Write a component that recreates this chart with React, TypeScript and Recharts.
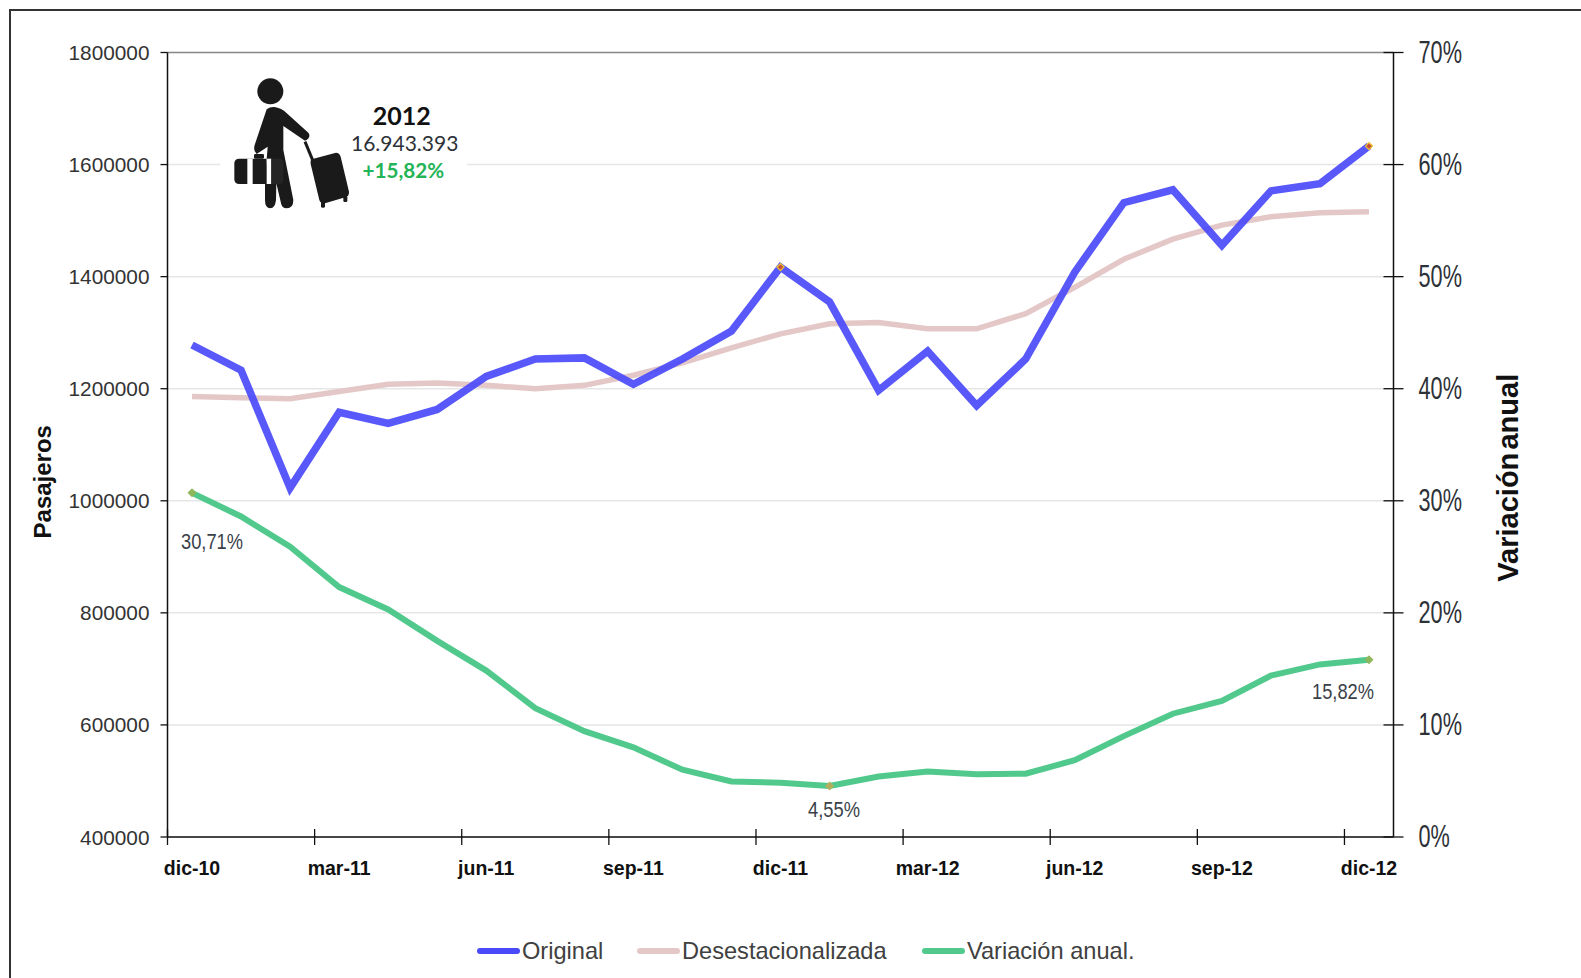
import React from 'react';
import {
  CartesianGrid,
  Label,
  LabelList,
  Legend,
  Line,
  LineChart,
  ReferenceLine,
  XAxis,
  YAxis,
} from 'recharts';

const months = [
  'dic-10', 'ene-11', 'feb-11', 'mar-11', 'abr-11', 'may-11', 'jun-11', 'jul-11', 'ago-11', 'sep-11', 'oct-11', 'nov-11',
  'dic-11', 'ene-12', 'feb-12', 'mar-12', 'abr-12', 'may-12', 'jun-12', 'jul-12', 'ago-12', 'sep-12', 'oct-12', 'nov-12', 'dic-12',
];
const original = [
  1278000, 1233000, 1023000, 1158000, 1138000, 1163000, 1222000, 1253000, 1255000, 1208000, 1253000, 1303000,
  1417000, 1355000, 1197000, 1267000, 1170000, 1253000, 1408000, 1532000, 1555000, 1456000, 1553000, 1566000, 1633000,
];
const desestacionalizada = [
  1186000, 1184000, 1182000, 1195000, 1208000, 1210000, 1206000, 1200000, 1206000, 1224000, 1246000, 1273000,
  1298000, 1316000, 1318000, 1307000, 1307000, 1334000, 1381000, 1431000, 1467000, 1492000, 1507000, 1514000, 1516000,
];
const variacion = [
  30.71, 28.6, 25.9, 22.3, 20.3, 17.5, 14.85, 11.5, 9.45, 8.0, 6.0, 4.95,
  4.85, 4.55, 5.4, 5.85, 5.6, 5.65, 6.85, 9.0, 11.0, 12.15, 14.4, 15.4, 15.82,
];
const pasajerosTicks = [400000, 600000, 800000, 1000000, 1200000, 1400000, 1600000, 1800000];
const variacionTicks = [0, 10, 20, 30, 40, 50, 60, 70];
const legendNames = ['Original', 'Desestacionalizada', 'Variación anual.'];

const data = months.map((month, i) => ({
  month,
  original: original[i],
  desestacionalizada: desestacionalizada[i],
  variacion: variacion[i],
}));

const ARIAL = '"Liberation Sans", Arial, sans-serif';
const BLUE = '#4a4afb';
const PINK = '#e4c8c8';
const GREEN = '#52c98c';
const HALF_STEP = 24.52;

// puntos destacados y donde va su etiqueta respecto al punto
const labelled: Record<number, { dx: number; dy: number; w: number }> = {
  0: { dx: 20, dy: 56, w: 62 },
  13: { dx: 4.5, dy: 31, w: 52 },
  24: { dx: -26, dy: 39, w: 62 },
};

const Diamond = ({ cx, cy, r, fill, stroke }: any) => (
  <path
    d={`M${cx - r},${cy}L${cx},${cy - r}L${cx + r},${cy}L${cx},${cy + r}Z`}
    fill={fill}
    stroke={stroke}
    strokeWidth={stroke ? 1.2 : 0}
  />
);

const blueDot = (props: any) =>
  props.index === 12 || props.index === 24 ? (
    <Diamond key={props.index} cx={props.cx} cy={props.cy} r={3.6} fill="#c9503c" stroke="#ecc832" />
  ) : (
    <g key={props.index} />
  );

const greenDot = (props: any) =>
  labelled[props.index] ? (
    <Diamond key={props.index} cx={props.cx} cy={props.cy} r={4.5} fill={props.index === 13 ? '#b3ae5e' : '#8fb75c'} />
  ) : (
    <g key={props.index} />
  );

const VariacionLabel = ({ x, y, index, value }: any) => {
  const l = labelled[index];
  if (!l) return null;
  return (
    <text
      x={x + l.dx}
      y={y + l.dy}
      textAnchor="middle"
      textLength={l.w}
      lengthAdjust="spacingAndGlyphs"
      fontFamily={ARIAL}
      fontSize={21.5}
      fill="#3a3f48"
    >
      {`${Number(value).toFixed(2).replace('.', ',')}%`}
    </text>
  );
};

const MonthTick = ({ x, y, payload }: any) => (
  <g>
    <line x1={x - HALF_STEP} x2={x - HALF_STEP} y1={y - 8} y2={y + 8} stroke="#111" strokeWidth={1.3} />
    <text x={x} y={y + 37.5} textAnchor="middle" fontFamily={ARIAL} fontWeight="bold" fontSize={19.5} fill="#111">
      {payload.value}
    </text>
  </g>
);

const LeftTick = ({ x, y, payload }: any) => (
  <g>
    <line x1={x - 7} x2={x} y1={y} y2={y} stroke="#111" strokeWidth={1.3} />
    <text x={x - 18} y={y + 7.5} textAnchor="end" fontFamily={ARIAL} fontSize={20.8} fill="#333">
      {payload.value}
    </text>
  </g>
);

const RightTick = ({ x, y, payload }: any) => (
  <g>
    <line x1={x - 10} x2={x + 10} y1={y} y2={y} stroke="#111" strokeWidth={1.3} />
    <text
      transform={`translate(${x + 25},${y + 10}) scale(0.7,1)`}
      fontFamily={ARIAL}
      fontSize={31}
      fill="#2d3138"
    >
      {`${payload.value}%`}
    </text>
  </g>
);

const PasajerosTitle = ({ viewBox }: any) => {
  const cx = 51;
  const cy = viewBox.y + viewBox.height / 2 + 37;
  return (
    <text
      transform={`rotate(-90 ${cx} ${cy})`}
      x={cx}
      y={cy}
      textAnchor="middle"
      fontFamily={ARIAL}
      fontWeight="bold"
      fontSize={24}
      fill="#111"
    >
      Pasajeros
    </text>
  );
};

const VariacionTitle = ({ viewBox }: any) => {
  const cx = 1518;
  const cy = viewBox.y + viewBox.height / 2 + 33;
  return (
    <text
      transform={`rotate(-90 ${cx} ${cy})`}
      x={cx}
      y={cy}
      textAnchor="middle"
      textLength={208}
      lengthAdjust="spacingAndGlyphs"
      wordSpacing={-5}
      fontFamily={ARIAL}
      fontWeight="bold"
      fontSize={29}
      fill="#111"
    >
      Variación anual
    </text>
  );
};

const LegendRow = ({ payload }: any) => (
  <div style={{ position: 'relative', height: 30, top: 1, fontFamily: ARIAL, fontSize: 23.6, color: '#404040' }}>
    {legendNames.map((name, i) => {
      const item = (payload || []).find((p: any) => p.value === name);
      return (
        <div
          key={name}
          style={{ position: 'absolute', left: [477, 637, 922][i], top: 0, display: 'flex', alignItems: 'center', height: 30, whiteSpace: 'nowrap' }}
        >
          <span style={{ display: 'inline-block', width: 43, height: 6, borderRadius: 3, background: item ? item.color : '#000', marginRight: 2 }} />
          {name}
        </div>
      );
    })}
  </div>
);

// pictograma del viajero, dibujado encima del grafico
const Traveller = () => (
  <svg
    width={500}
    height={300}
    viewBox="0 0 1500 900"
    style={{ position: 'absolute', left: 0, top: 0, pointerEvents: 'none' }}
  >
    <rect x={661} y={440} width={740} height={110} fill="#fff" />
    <g fill="#1b1a1a">
      <circle cx={811} cy={274} r={39} />
      <path d="M703,490 Q703,476 718,476 L800,476 L800,552 L718,552 Q703,552 703,538 Z" />
      <rect x={762} y={462} width={30} height={14} rx={4} />
      <path d="M800,328 Q820,312 852,332 L925,398 Q935,412 915,422 L850,378 L850,450 L880,600 Q880,625 860,625 Q845,625 842,605 L829,550 L828,600 Q825,625 811,625 Q795,625 795,600 L795,540 L803,440 L770,462 Q758,450 765,432 Z" />
      <path d="M935,478 L1008,458 Q1018,458 1022,470 L1047,575 Q1048,588 1036,592 L975,610 Q962,612 958,600 L932,492 Q930,482 935,478 Z" />
      <path d="M915,425 L942,490" stroke="#1b1a1a" strokeWidth={9} fill="none" />
      <rect x={963} y={605} width={12} height={18} rx={4} />
      <rect x={1030} y={588} width={12} height={18} rx={4} />
    </g>
    <rect x={742} y={476} width={16} height={76} fill="#fff" />
    <rect x={800} y={476} width={14} height={76} fill="#fff" />
    <path d="M814,476 L838,476 Q850,476 850,490 L850,538 Q850,552 838,552 L814,552 Z" fill="#262525" />
    <g textAnchor="middle" fontFamily="Lato, sans-serif">
      <text x={1205} y={374} fontSize={75} fontWeight="bold" fill="#111">2012</text>
      <text x={1214} y={454} fontSize={63} fill="#2d3138">16.943.393</text>
      <text x={1210} y={535} fontSize={62} fontWeight="bold" fill="#22b455">+15,82%</text>
    </g>
  </svg>
);

export default function App() {
  return (
    <div style={{ position: 'absolute', left: 0, top: 0, width: 1581, height: 978, background: '#fff', overflow: 'hidden' }}>
      <div style={{ position: 'absolute', left: 9, top: 9, width: 1600, height: 1000, borderLeft: '2px solid #333', borderTop: '2px solid #333' }} />
      <LineChart
        width={1581}
        height={978}
        data={data}
        margin={{ top: 52.5, right: 87.5, bottom: 13, left: 67.5 }}
        style={{ position: 'absolute', left: 0, top: 0 }}
      >
        <CartesianGrid vertical={false} stroke="#e6e6e6" strokeWidth={1.5} yAxisId="left" />
        <XAxis
          dataKey="month"
          interval={2}
          padding={{ left: HALF_STEP, right: HALF_STEP }}
          height={98}
          tickSize={0}
          tickMargin={0}
          tickLine={false}
          tick={<MonthTick />}
          stroke="#111"
          strokeWidth={1.5}
        />
        <YAxis
          yAxisId="left"
          domain={[400000, 1800000]}
          ticks={pasajerosTicks}
          width={100}
          tickSize={0}
          tickMargin={0}
          tickLine={false}
          tick={<LeftTick />}
          stroke="#111"
          strokeWidth={1.5}
        >
          <Label content={<PasajerosTitle />} />
        </YAxis>
        <YAxis
          yAxisId="right"
          orientation="right"
          domain={[0, 70]}
          ticks={variacionTicks}
          width={100}
          tickSize={0}
          tickMargin={0}
          tickLine={false}
          tick={<RightTick />}
          stroke="#111"
          strokeWidth={1.5}
        >
          <Label content={<VariacionTitle />} />
        </YAxis>
        <ReferenceLine yAxisId="left" y={1800000} stroke="#8a8a8a" strokeWidth={1.5} />
        <Legend content={<LegendRow />} height={30} wrapperStyle={{ left: 0, width: 1581 }} />
        <Line
          yAxisId="left"
          dataKey="desestacionalizada"
          name="Desestacionalizada"
          stroke={PINK}
          strokeWidth={5.5}
          dot={false}
          activeDot={false}
          isAnimationActive={false}
        />
        <Line
          yAxisId="left"
          dataKey="original"
          name="Original"
          stroke={BLUE}
          strokeOpacity={0.92}
          strokeWidth={7.5}
          strokeLinejoin="miter"
          dot={blueDot}
          activeDot={false}
          isAnimationActive={false}
        />
        <Line
          yAxisId="right"
          dataKey="variacion"
          name="Variación anual."
          stroke={GREEN}
          strokeWidth={6}
          dot={greenDot}
          activeDot={false}
          isAnimationActive={false}
        >
          <LabelList dataKey="variacion" content={<VariacionLabel />} />
        </Line>
      </LineChart>
      <Traveller />
    </div>
  );
}
